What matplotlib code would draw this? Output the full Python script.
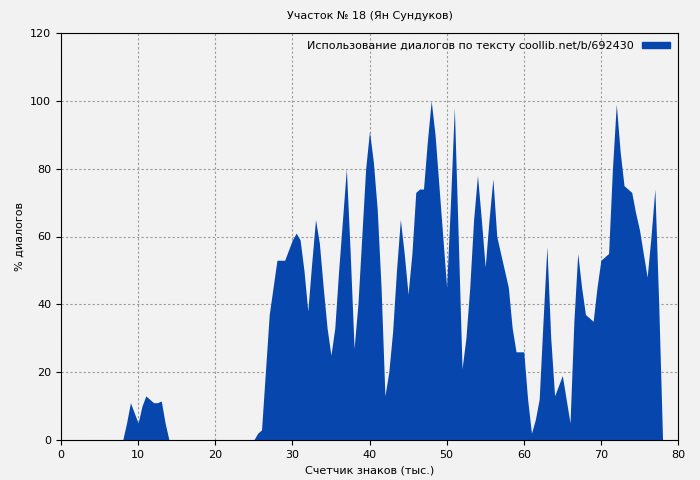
import matplotlib
matplotlib.use("Agg")
import matplotlib.pyplot as plt
import numpy as np
from matplotlib.patches import Patch

x1 = [8, 8.5, 9, 9.5, 10, 10.5, 11, 11.5, 12, 12.5, 13, 13.5, 14]
y1 = [0, 5, 11, 8, 5, 10, 13, 12, 11, 11, 11.5, 5, 0]
x2 = list(np.arange(25, 78.01, 0.5))
y2 = [0, 2, 3, 20, 37, 45, 53, 53, 53, 56, 59, 61, 59, 50, 38, 52, 65, 58, 45, 33,
      25, 33, 50, 65, 80, 55, 27, 40, 60, 80, 91, 82, 68, 45, 13, 20, 32, 50, 65, 55,
      43, 55, 73, 74, 74, 88, 100, 90, 75, 60, 45, 70, 98, 60, 21, 30, 45, 65, 78, 65,
      51, 65, 77, 60, 55, 50, 45, 33, 26, 26, 26, 12, 2, 6, 12, 35, 57, 30, 13, 16,
      19, 12, 5, 35, 55, 45, 37, 36, 35, 45, 53, 54, 55, 80, 99, 85, 75, 74, 73, 67,
      62, 55, 48, 60, 74, 40, 0]

color = "#0646ad"
bg = "#f2f2f2"
fig = plt.figure(figsize=(7, 4.8), dpi=100, facecolor=bg)
ax = fig.add_axes([61/700, 40/480, 617/700, 407/480], facecolor=bg)
ax.fill_between(x1, y1, color=color, lw=0)
ax.fill_between(x2, y2, color=color, lw=0)
ax.set_xlim(0, 80)
ax.set_ylim(0, 120)
ax.set_xticks(range(0, 81, 10))
ax.set_yticks(range(0, 121, 20))
ax.grid(True, color="#999999", linestyle=(0, (2, 2)), lw=0.8)
ax.set_axisbelow(True)
ax.tick_params(labelsize=8)
ax.set_xlabel("Счетчик знаков (тыс.)", fontsize=8)
ax.set_ylabel("% диалогов", fontsize=8)
ax.set_title("Участок № 18 (Ян Сундуков)", fontsize=8, pad=10)
ax.legend(handles=[Patch(color=color)],
          labels=["Использование диалогов по тексту coollib.net/b/692430"],
          loc="upper right", frameon=False, fontsize=8, markerfirst=False,
          handlelength=2.5, handleheight=0.4, borderaxespad=0.3)
fig.savefig("out.png", facecolor=bg)
